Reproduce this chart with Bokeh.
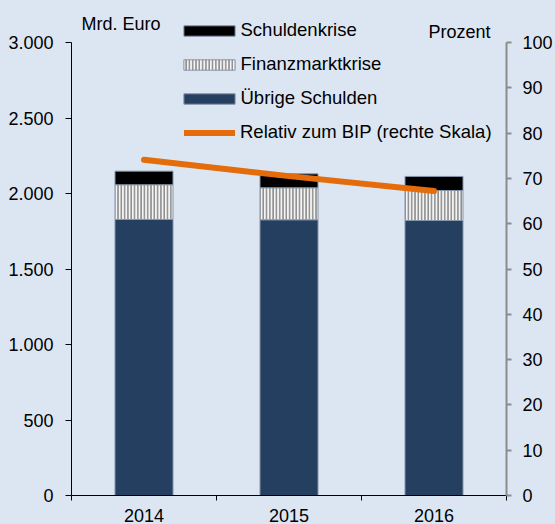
from bokeh.plotting import figure
from bokeh.models import (Range1d, LinearAxis, FixedTicker, Legend, LegendItem, Label,
                          ColumnDataSource)
from bokeh.embed import file_html
from bokeh.resources import INLINE

# ---- data ----
years = ["2014", "2015", "2016"]
uebrige = [1828, 1826, 1821]          # Übrige Schulden (Mrd. Euro)
finanzmarkt = [230, 212, 199]         # Finanzmarktkrise
schuldenkrise = [90, 92, 93]          # Schuldenkrise
relativ_bip = [74.1, 70.5, 67.2]      # Relativ zum BIP (Prozent)

left_ticks = [0, 500, 1000, 1500, 2000, 2500, 3000]
left_tick_labels = ["0", "500", "1.000", "1.500", "2.000", "2.500", "3.000"]
right_ticks = [0, 10, 20, 30, 40, 50, 60, 70, 80, 90, 100]
left_max = 3000
right_max = 100

BG = "#dce6f2"
FONT = "Liberation Sans"
FS = "18px"
FS_LEG = "18.5px"

# layout (pixels)
WIDTH, HEIGHT = 555, 524
FRAME_LEFT, FRAME_RIGHT = 71, 506
FRAME_TOP, AX_TOP, AX_BOTTOM = 8, 42, 495
stretch = (AX_BOTTOM - FRAME_TOP) / (AX_BOTTOM - AX_TOP)

# category slots: each year occupies one unit on the x scale, centred at i + 0.5
xpos = [i + 0.5 for i in range(len(years))]
bounds = [float(i) for i in range(len(years) + 1)]

b1 = [0] * len(years)
t1 = [b + v for b, v in zip(b1, uebrige)]
t2 = [b + v for b, v in zip(t1, finanzmarkt)]
t3 = [b + v for b, v in zip(t2, schuldenkrise)]
src = ColumnDataSource(dict(x=xpos, b1=b1, t1=t1, t2=t2, t3=t3, pct=relativ_bip))

p = figure(x_range=Range1d(0, len(years)), y_range=Range1d(0, left_max * stretch),
           width=WIDTH, height=HEIGHT,
           output_backend="svg", toolbar_location=None, x_axis_location=None,
           min_border_left=FRAME_LEFT, min_border_right=WIDTH - FRAME_RIGHT,
           min_border_top=FRAME_TOP, min_border_bottom=HEIGHT - AX_BOTTOM)
p.extra_y_ranges = {"pct": Range1d(0, right_max * stretch)}
p.background_fill_color = BG
p.border_fill_color = BG
p.outline_line_color = None
p.xgrid.visible = False
p.ygrid.visible = False

W = 0.4
r_ueb = p.vbar(x="x", bottom="b1", top="t1", width=W, source=src, fill_color="#253f60",
               line_color="#8594a8", line_width=1)
r_fin = p.vbar(x="x", bottom="t1", top="t2", width=W, source=src, fill_color="#f4f4f4",
               hatch_pattern="vertical_line", hatch_color="#8f8f8f", hatch_scale=3.3,
               hatch_weight=1.8, line_color="#8594a8", line_width=1)
r_sch = p.vbar(x="x", bottom="t2", top="t3", width=W, source=src, fill_color="#000000",
               line_color="#8594a8", line_width=1)
r_line = p.line(x="x", y="pct", source=src, y_range_name="pct", line_color="#e46c0a",
                line_width=6, line_cap="round")

# left axis
ya = p.yaxis[0]
ya.ticker = FixedTicker(ticks=left_ticks)
ya.bounds = (0, left_max)
ya.major_label_overrides = {t: l for t, l in zip(left_ticks, left_tick_labels)}
ya.minor_tick_line_color = None
ya.major_tick_in = 0
ya.major_tick_out = 6
ya.major_label_standoff = 12
ya.axis_line_color = "black"
ya.major_tick_line_color = "black"
ya.major_label_text_font = FONT
ya.major_label_text_font_size = FS
ya.major_label_text_color = "black"

# right axis
ra = LinearAxis(y_range_name="pct", ticker=FixedTicker(ticks=right_ticks))
ra.bounds = (0, right_max)
ra.minor_tick_line_color = None
ra.major_tick_in = 0
ra.major_tick_out = 5
ra.major_label_standoff = 11
ra.axis_line_color = "#8c8c8c"
ra.axis_line_width = 2
ra.major_tick_line_color = "#8c8c8c"
ra.major_tick_line_width = 2
ra.major_label_text_font = FONT
ra.major_label_text_font_size = FS
ra.major_label_text_color = "black"
p.add_layout(ra, "right")

# bottom axis: ticks at category boundaries, labels at centres
xa = LinearAxis(ticker=FixedTicker(ticks=xpos, minor_ticks=bounds))
xa.major_label_overrides = {c: y for c, y in zip(xpos, years)}
xa.major_tick_line_color = None
xa.major_tick_out = 0
xa.major_tick_in = 0
xa.minor_tick_out = 5
xa.minor_tick_in = 0
xa.minor_tick_line_color = "black"
xa.axis_line_color = "black"
xa.major_label_standoff = 8
xa.major_label_text_font = FONT
xa.major_label_text_font_size = FS
xa.major_label_text_color = "black"
p.add_layout(xa, "below")

# unit labels (screen units from the frame's bottom-left corner)
p.add_layout(Label(x=10, y=AX_BOTTOM - 23, x_units="screen", y_units="screen",
                   text="Mrd. Euro", text_font=FONT, text_font_size=FS,
                   text_baseline="middle", text_align="left", text_color="black"))
p.add_layout(Label(x=419, y=AX_BOTTOM - 31, x_units="screen", y_units="screen",
                   text="Prozent", text_font=FONT, text_font_size=FS,
                   text_baseline="middle", text_align="right", text_color="black"))


def style_legend(lg, glyph_w, standoff):
    lg.glyph_width = glyph_w
    lg.glyph_height = 13
    lg.label_height = 21
    lg.spacing = 12
    lg.padding = 0
    lg.margin = 0
    lg.label_standoff = standoff
    lg.border_line_color = None
    lg.background_fill_alpha = 0
    lg.label_text_font = FONT
    lg.label_text_font_size = FS_LEG
    lg.label_text_color = "black"


# bar swatches are drawn inset by 10% of the glyph box, so that box is wider
bar_legend = Legend(items=[
    LegendItem(label="Schuldenkrise", renderers=[r_sch]),
    LegendItem(label="Finanzmarktkrise", renderers=[r_fin]),
    LegendItem(label="Übrige Schulden", renderers=[r_ueb]),
], location=(105.5, AX_BOTTOM - 109))
style_legend(bar_legend, 64, 0)
p.add_layout(bar_legend, "center")

line_legend = Legend(items=[
    LegendItem(label="Relativ zum BIP (rechte Skala)", renderers=[r_line]),
], location=(113, AX_BOTTOM - 143))
style_legend(line_legend, 51, 5)
p.add_layout(line_legend, "center")

html = file_html(p, INLINE)
html = html.replace("<head>", "<head><style>body{background:%s;}</style>" % BG, 1)
open("out.html", "w").write(html)
